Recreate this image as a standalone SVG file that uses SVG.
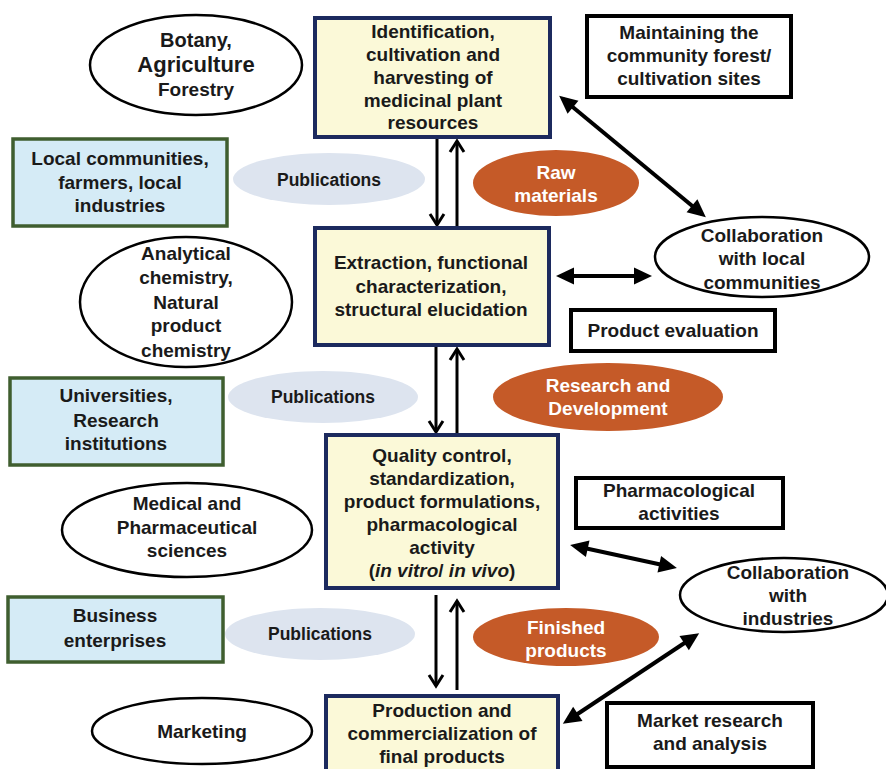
<svg xmlns="http://www.w3.org/2000/svg" width="886" height="769" viewBox="0 0 886 769">
<style>
text{font-family:"Liberation Sans",Arial,sans-serif;font-weight:bold;font-size:19px;fill:#1a1a1a;text-anchor:middle}
.main{fill:#fbf9d8;stroke:#1c2a5e;stroke-width:4}
.left{fill:#d5ebf6;stroke:#3f5e2f;stroke-width:3.5}
.note{fill:#fff;stroke:#000;stroke-width:4}
.oval{fill:#fff;stroke:#000;stroke-width:2.5}
.pub{fill:#dde4ef}
.pt{font-size:17.5px}
.org{fill:#c55a28}
.w{fill:#fff}
.v{stroke:#000;stroke-width:3;fill:none}
.d{stroke:#000;stroke-width:4;fill:none}
</style>
<defs>
<marker id="open" markerUnits="userSpaceOnUse" viewBox="-14 -10 18 20" refX="0" refY="0" markerWidth="18" markerHeight="20" orient="auto-start-reverse" overflow="visible">
<path d="M-11,-7 L0,0 L-11,7" fill="none" stroke="#000" stroke-width="3"/>
</marker>
<marker id="solid" markerUnits="userSpaceOnUse" viewBox="-15 -10 22 20" refX="0" refY="0" markerWidth="22" markerHeight="20" orient="auto-start-reverse" overflow="visible">
<path d="M5,0 L-13,-8.5 L-13,8.5 Z" fill="#000"/>
</marker>
</defs>
<rect width="886" height="769" fill="#fff"/>

<g id="connectors">
<line class="v" x1="437" y1="139" x2="437" y2="225" marker-end="url(#open)"/>
<line class="v" x1="457" y1="227" x2="457" y2="141" marker-end="url(#open)"/>
<line class="v" x1="436" y1="347" x2="436" y2="432" marker-end="url(#open)"/>
<line class="v" x1="457" y1="433" x2="457" y2="349" marker-end="url(#open)"/>
<line class="v" x1="436" y1="595" x2="436" y2="686" marker-end="url(#open)"/>
<line class="v" x1="457" y1="690" x2="457" y2="601" marker-end="url(#open)"/>
<line class="d" x1="563" y1="99" x2="702" y2="214" marker-start="url(#solid)" marker-end="url(#solid)"/>
<line class="d" x1="561" y1="276" x2="647" y2="276" marker-start="url(#solid)" marker-end="url(#solid)"/>
<line class="d" x1="575" y1="546" x2="672" y2="567" marker-start="url(#solid)" marker-end="url(#solid)"/>
<line class="d" x1="567" y1="721" x2="695" y2="636" marker-start="url(#solid)" marker-end="url(#solid)"/>
</g>

<g id="n-identification">
<rect class="main" x="315" y="18" width="235" height="119"/>
<text x="433" y="38">Identification,</text>
<text x="433" y="61">cultivation and</text>
<text x="433" y="84">harvesting of</text>
<text x="433" y="107">medicinal plant</text>
<text x="433" y="129">resources</text>
</g>
<g id="n-extraction">
<rect class="main" x="315" y="228" width="234" height="117"/>
<text x="431" y="269">Extraction, functional</text>
<text x="431" y="293">characterization,</text>
<text x="431" y="316">structural elucidation</text>
</g>
<g id="n-quality">
<rect class="main" x="326" y="435" width="232" height="153"/>
<text x="442" y="462">Quality control,</text>
<text x="442" y="485">standardization,</text>
<text x="442" y="508">product formulations,</text>
<text x="442" y="531">pharmacological</text>
<text x="442" y="554">activity</text>
<text x="442" y="577">(<tspan font-style="italic">in vitro</tspan>/ <tspan font-style="italic">in vivo</tspan>)</text>
</g>
<g id="n-production">
<rect class="main" x="326" y="696" width="232" height="80"/>
<text x="442" y="717">Production and</text>
<text x="442" y="740">commercialization of</text>
<text x="442" y="763">final products</text>
</g>

<g id="n-botany">
<ellipse class="oval" cx="196" cy="65" rx="106" ry="50"/>
<text x="196" y="47" style="font-size:20px">Botany,</text>
<text x="196" y="72" style="font-size:22px">Agriculture</text>
<text x="196" y="96">Forestry</text>
</g>
<g id="n-local">
<rect class="left" x="13" y="139" width="214" height="87"/>
<text x="120" y="165">Local communities,</text>
<text x="120" y="189">farmers, local</text>
<text x="120" y="212">industries</text>
</g>
<g id="n-pub1">
<ellipse class="pub" cx="329" cy="179" rx="96" ry="26"/>
<text class="pt" x="329" y="186">Publications</text>
</g>
<g id="n-analytical">
<ellipse class="oval" cx="186" cy="302" rx="106" ry="65"/>
<text x="186" y="260">Analytical</text>
<text x="186" y="284">chemistry,</text>
<text x="186" y="309">Natural</text>
<text x="186" y="332">product</text>
<text x="186" y="357">chemistry</text>
</g>
<g id="n-universities">
<rect class="left" x="10" y="378" width="213" height="87"/>
<text x="116" y="402">Universities,</text>
<text x="116" y="427">Research</text>
<text x="116" y="450">institutions</text>
</g>
<g id="n-pub2">
<ellipse class="pub" cx="323" cy="397" rx="95" ry="26"/>
<text class="pt" x="323" y="403">Publications</text>
</g>
<g id="n-medical">
<ellipse class="oval" cx="187" cy="530" rx="125" ry="47"/>
<text x="187" y="510">Medical and</text>
<text x="187" y="534">Pharmaceutical</text>
<text x="187" y="557">sciences</text>
</g>
<g id="n-business">
<rect class="left" x="8" y="597" width="215" height="65"/>
<text x="115" y="622">Business</text>
<text x="115" y="647">enterprises</text>
</g>
<g id="n-pub3">
<ellipse class="pub" cx="320" cy="634" rx="95" ry="26"/>
<text class="pt" x="320" y="640">Publications</text>
</g>
<g id="n-marketing">
<ellipse class="oval" cx="202" cy="731" rx="110" ry="33"/>
<text x="202" y="738">Marketing</text>
</g>

<g id="n-maintaining">
<rect class="note" x="587" y="16" width="204" height="81"/>
<text x="689" y="39">Maintaining the</text>
<text x="689" y="62">community forest/</text>
<text x="689" y="85">cultivation sites</text>
</g>
<g id="n-raw">
<ellipse class="org" cx="556" cy="183" rx="83" ry="33"/>
<text class="w" x="556" y="179">Raw</text>
<text class="w" x="556" y="202">materials</text>
</g>
<g id="n-collab-local">
<ellipse class="oval" cx="762" cy="257" rx="107" ry="40"/>
<text x="762" y="242">Collaboration</text>
<text x="762" y="265">with local</text>
<text x="762" y="289">communities</text>
</g>
<g id="n-evaluation">
<rect class="note" x="571" y="310" width="204" height="41"/>
<text x="673" y="337">Product evaluation</text>
</g>
<g id="n-rd">
<ellipse class="org" cx="608" cy="397" rx="115" ry="34"/>
<text class="w" x="608" y="392">Research and</text>
<text class="w" x="608" y="415">Development</text>
</g>
<g id="n-pharma">
<rect class="note" x="576" y="478" width="207" height="50"/>
<text x="679" y="497">Pharmacological</text>
<text x="679" y="520">activities</text>
</g>
<g id="n-collab-ind">
<ellipse class="oval" cx="784" cy="595" rx="104" ry="37"/>
<text x="788" y="579">Collaboration</text>
<text x="788" y="602">with</text>
<text x="788" y="625">industries</text>
</g>
<g id="n-finished">
<ellipse class="org" cx="566" cy="637" rx="93" ry="29"/>
<text class="w" x="566" y="634">Finished</text>
<text class="w" x="566" y="657">products</text>
</g>
<g id="n-market">
<rect class="note" x="607" y="703" width="206" height="64"/>
<text x="710" y="727">Market research</text>
<text x="710" y="750">and analysis</text>
</g>
</svg>
